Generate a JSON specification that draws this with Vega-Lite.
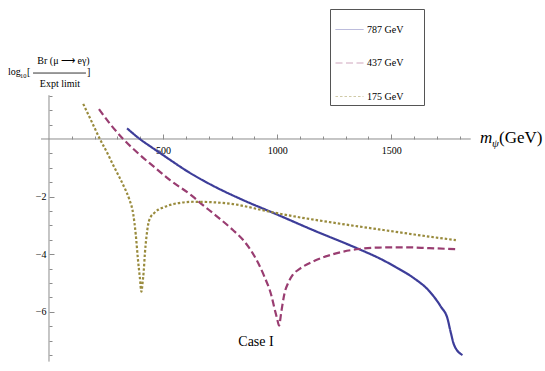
{
  "$schema": "https://vega.github.io/schema/vega-lite/v6.json",
  "width": 545,
  "height": 371,
  "autosize": "none",
  "padding": 0,
  "background": "white",
  "config": {"view": {"stroke": null}, "font": "Liberation Serif"},
  "resolve": {"axis": {"x": "independent", "y": "independent"}},
  "datasets": {
    "curves": [
      {"series": "787 GeV", "x": 342, "y": 0.37},
      {"series": "787 GeV", "x": 398, "y": 0},
      {"series": "787 GeV", "x": 450, "y": -0.29},
      {"series": "787 GeV", "x": 500, "y": -0.56},
      {"series": "787 GeV", "x": 616, "y": -1.17},
      {"series": "787 GeV", "x": 735, "y": -1.69},
      {"series": "787 GeV", "x": 850, "y": -2.12},
      {"series": "787 GeV", "x": 981, "y": -2.56},
      {"series": "787 GeV", "x": 1156, "y": -3.16},
      {"series": "787 GeV", "x": 1360, "y": -3.83},
      {"series": "787 GeV", "x": 1447, "y": -4.14},
      {"series": "787 GeV", "x": 1520, "y": -4.45},
      {"series": "787 GeV", "x": 1593, "y": -4.8},
      {"series": "787 GeV", "x": 1666, "y": -5.28},
      {"series": "787 GeV", "x": 1717, "y": -5.82},
      {"series": "787 GeV", "x": 1746, "y": -6.23},
      {"series": "787 GeV", "x": 1760, "y": -6.7},
      {"series": "787 GeV", "x": 1775, "y": -7.15},
      {"series": "787 GeV", "x": 1812, "y": -7.5},
      {"series": "437 GeV", "x": 219, "y": 1.04},
      {"series": "437 GeV", "x": 270, "y": 0.5},
      {"series": "437 GeV", "x": 325, "y": 0},
      {"series": "437 GeV", "x": 398, "y": -0.55},
      {"series": "437 GeV", "x": 485, "y": -1.13},
      {"series": "437 GeV", "x": 529, "y": -1.42},
      {"series": "437 GeV", "x": 631, "y": -2.0},
      {"series": "437 GeV", "x": 660, "y": -2.2},
      {"series": "437 GeV", "x": 730, "y": -2.65},
      {"series": "437 GeV", "x": 806, "y": -3.16},
      {"series": "437 GeV", "x": 850, "y": -3.5},
      {"series": "437 GeV", "x": 893, "y": -3.97},
      {"series": "437 GeV", "x": 944, "y": -4.78},
      {"series": "437 GeV", "x": 975, "y": -5.45},
      {"series": "437 GeV", "x": 988, "y": -5.88},
      {"series": "437 GeV", "x": 1000, "y": -6.25},
      {"series": "437 GeV", "x": 1008, "y": -6.48},
      {"series": "437 GeV", "x": 1018, "y": -6.0},
      {"series": "437 GeV", "x": 1032, "y": -5.36},
      {"series": "437 GeV", "x": 1048, "y": -5.0},
      {"series": "437 GeV", "x": 1068, "y": -4.72},
      {"series": "437 GeV", "x": 1100, "y": -4.5},
      {"series": "437 GeV", "x": 1156, "y": -4.26},
      {"series": "437 GeV", "x": 1258, "y": -3.97},
      {"series": "437 GeV", "x": 1360, "y": -3.82},
      {"series": "437 GeV", "x": 1447, "y": -3.77},
      {"series": "437 GeV", "x": 1560, "y": -3.76},
      {"series": "437 GeV", "x": 1666, "y": -3.79},
      {"series": "437 GeV", "x": 1793, "y": -3.83},
      {"series": "175 GeV", "x": 150, "y": 1.22},
      {"series": "175 GeV", "x": 190, "y": 0.55},
      {"series": "175 GeV", "x": 223, "y": 0},
      {"series": "175 GeV", "x": 253, "y": -0.45},
      {"series": "175 GeV", "x": 281, "y": -0.9},
      {"series": "175 GeV", "x": 310, "y": -1.35},
      {"series": "175 GeV", "x": 332, "y": -1.71},
      {"series": "175 GeV", "x": 352, "y": -2.1},
      {"series": "175 GeV", "x": 369, "y": -2.6},
      {"series": "175 GeV", "x": 380, "y": -3.3},
      {"series": "175 GeV", "x": 390, "y": -4.2},
      {"series": "175 GeV", "x": 398, "y": -4.8},
      {"series": "175 GeV", "x": 405, "y": -5.3},
      {"series": "175 GeV", "x": 410, "y": -5.0},
      {"series": "175 GeV", "x": 415, "y": -4.6},
      {"series": "175 GeV", "x": 420, "y": -4.0},
      {"series": "175 GeV", "x": 427, "y": -3.4},
      {"series": "175 GeV", "x": 435, "y": -2.95},
      {"series": "175 GeV", "x": 445, "y": -2.72},
      {"series": "175 GeV", "x": 460, "y": -2.58},
      {"series": "175 GeV", "x": 480, "y": -2.45},
      {"series": "175 GeV", "x": 500, "y": -2.38},
      {"series": "175 GeV", "x": 540, "y": -2.27},
      {"series": "175 GeV", "x": 580, "y": -2.21},
      {"series": "175 GeV", "x": 631, "y": -2.18},
      {"series": "175 GeV", "x": 700, "y": -2.19},
      {"series": "175 GeV", "x": 806, "y": -2.26},
      {"series": "175 GeV", "x": 952, "y": -2.5},
      {"series": "175 GeV", "x": 1083, "y": -2.7},
      {"series": "175 GeV", "x": 1200, "y": -2.85},
      {"series": "175 GeV", "x": 1316, "y": -2.99},
      {"series": "175 GeV", "x": 1447, "y": -3.14},
      {"series": "175 GeV", "x": 1560, "y": -3.27},
      {"series": "175 GeV", "x": 1666, "y": -3.39},
      {"series": "175 GeV", "x": 1783, "y": -3.51}
    ]
  },
  "layer": [
    {
      "data": {"values": [{}]},
      "mark": {"type": "rule", "color": "#8c8c8c", "strokeWidth": 1},
      "encoding": {
        "x": {"datum": -35, "type": "quantitative",
          "axis": {
            "orient": "bottom", "offset": -232,
            "values": [100, 200, 300, 400, 600, 700, 800, 900, 1100, 1200, 1300, 1400, 1600, 1700, 1800],
            "domain": false, "grid": false, "labels": false, "title": null,
            "tickSize": -3, "tickColor": "#8c8c8c", "tickWidth": 1
          }
        },
        "x2": {"datum": 1848},
        "y": {"datum": 0, "type": "quantitative",
          "axis": {
            "orient": "left", "offset": -49,
            "values": [1.5, 1, 0.5, -0.5, -1, -1.5, -2.5, -3, -3.5, -4.5, -5, -5.5, -6.5, -7, -7.5],
            "domain": false, "grid": false, "labels": false, "title": null,
            "tickSize": -3, "tickColor": "#8c8c8c", "tickWidth": 1
          }
        }
      }
    },
    {
      "data": {"values": [{}]},
      "mark": {"type": "rule", "color": "#8c8c8c", "strokeWidth": 1},
      "encoding": {
        "x": {"datum": 0, "type": "quantitative", "axis": null},
        "y": {"datum": 1.52, "type": "quantitative", "axis": null},
        "y2": {"datum": -7.73}
      }
    },
    {
      "data": {"name": "curves"},
      "mark": {"type": "line", "strokeWidth": 2.2, "interpolate": "monotone"},
      "encoding": {
        "x": {
          "field": "x", "type": "quantitative",
          "scale": {"domain": [-214.7, 2173.5], "nice": false, "zero": false},
          "axis": {
            "orient": "bottom", "offset": -232,
            "values": [500, 1000, 1500],
            "domain": false, "grid": false,
            "tickSize": -5, "tickColor": "#8c8c8c", "tickWidth": 1,
            "format": "d",
            "labelFont": "Liberation Serif", "labelFontSize": 10, "labelColor": "black",
            "labelPadding": 11, "labelFlush": false, "labelOverlap": false,
            "title": null
          }
        },
        "y": {
          "field": "y", "type": "quantitative",
          "scale": {"domain": [-8.056, 4.826], "nice": false, "zero": false},
          "axis": {
            "orient": "left", "offset": -49,
            "values": [-2, -4, -6],
            "domain": false, "grid": false,
            "tickSize": -5, "tickColor": "#8c8c8c", "tickWidth": 1,
            "format": "d",
            "labelFont": "Liberation Serif", "labelFontSize": 10, "labelColor": "black",
            "labelPadding": 8, "labelFlush": false, "labelOverlap": false,
            "title": null
          }
        },
        "color": {
          "field": "series", "type": "nominal",
          "scale": {"domain": ["787 GeV", "437 GeV", "175 GeV"], "range": ["#3d3d99", "#993d71", "#998b3d"]},
          "legend": {
            "orient": "none", "legendX": 330, "legendY": 9,
            "title": "0000000000000000000000", "titleFontSize": 8, "titlePadding": 2, "titleOpacity": 0,
            "strokeColor": "#555555", "padding": 3, "rowPadding": 20.5,
            "symbolType": "M-2,0L2,0", "symbolSize": 196, "symbolStrokeWidth": 1,
            "symbolOpacity": 0.45, "symbolOffset": 9,
            "labelFont": "Liberation Serif", "labelFontSize": 10, "labelColor": "black",
            "labelOffset": 10
          }
        },
        "strokeDash": {
          "field": "series", "type": "nominal",
          "scale": {"domain": ["787 GeV", "437 GeV", "175 GeV"], "range": [[1, 0], [7, 3.5], [2.5, 2]]},
          "legend": {
            "orient": "none", "legendX": 330, "legendY": 9,
            "title": "0000000000000000000000", "titleFontSize": 8, "titlePadding": 2, "titleOpacity": 0,
            "strokeColor": "#555555", "padding": 3, "rowPadding": 20.5,
            "symbolType": "M-2,0L2,0", "symbolSize": 196, "symbolStrokeWidth": 1,
            "symbolOpacity": 0.45, "symbolOffset": 9,
            "labelFont": "Liberation Serif", "labelFontSize": 10, "labelColor": "black",
            "labelOffset": 10
          }
        }
      }
    },
    {
      "data": {"values": [{}]},
      "mark": {"type": "text", "text": "Case I", "fontSize": 14, "font": "Liberation Serif", "align": "center", "baseline": "middle", "color": "black"},
      "encoding": {"x": {"datum": 907, "type": "quantitative", "axis": null}, "y": {"datum": -7.05, "type": "quantitative", "axis": null}}
    },
    {
      "data": {"values": [{}]},
      "mark": {"type": "text", "text": "m", "fontSize": 17, "fontStyle": "italic", "font": "Liberation Serif", "align": "left", "baseline": "middle", "color": "black"},
      "encoding": {"x": {"datum": 1889, "type": "quantitative", "axis": null}, "y": {"datum": 0.03, "type": "quantitative", "axis": null}}
    },
    {
      "data": {"values": [{}]},
      "mark": {"type": "text", "text": "ψ", "fontSize": 11, "fontStyle": "italic", "font": "Liberation Serif", "align": "left", "baseline": "middle", "color": "black"},
      "encoding": {"x": {"datum": 1941, "type": "quantitative", "axis": null}, "y": {"datum": -0.17, "type": "quantitative", "axis": null}}
    },
    {
      "data": {"values": [{}]},
      "mark": {"type": "text", "text": "(GeV)", "fontSize": 17, "font": "Liberation Serif", "align": "left", "baseline": "middle", "color": "black"},
      "encoding": {"x": {"datum": 1972, "type": "quantitative", "axis": null}, "y": {"datum": 0.03, "type": "quantitative", "axis": null}}
    },
    {
      "data": {"values": [{}]},
      "mark": {"type": "text", "text": "Br (μ ⟶ eγ)", "fontSize": 10, "font": "Liberation Serif", "align": "center", "baseline": "middle", "color": "black"},
      "encoding": {"x": {"datum": 63.5, "type": "quantitative", "axis": null}, "y": {"datum": 2.71, "type": "quantitative", "axis": null}}
    },
    {
      "data": {"values": [{}]},
      "mark": {"type": "text", "text": "log", "fontSize": 10, "font": "Liberation Serif", "align": "left", "baseline": "middle", "color": "black"},
      "encoding": {"x": {"datum": -179.7, "type": "quantitative", "axis": null}, "y": {"datum": 2.33, "type": "quantitative", "axis": null}}
    },
    {
      "data": {"values": [{}]},
      "mark": {"type": "text", "text": "10", "fontSize": 6.5, "font": "Liberation Serif", "align": "left", "baseline": "middle", "color": "black"},
      "encoding": {"x": {"datum": -127, "type": "quantitative", "axis": null}, "y": {"datum": 2.2, "type": "quantitative", "axis": null}}
    },
    {
      "data": {"values": [{}]},
      "mark": {"type": "text", "text": "[", "fontSize": 10, "font": "Liberation Serif", "align": "left", "baseline": "middle", "color": "black"},
      "encoding": {"x": {"datum": -96.4, "type": "quantitative", "axis": null}, "y": {"datum": 2.33, "type": "quantitative", "axis": null}}
    },
    {
      "data": {"values": [{}]},
      "mark": {"type": "rule", "color": "black", "strokeWidth": 0.8},
      "encoding": {"x": {"datum": -70, "type": "quantitative", "axis": null}, "x2": {"datum": 162}, "y": {"datum": 2.29, "type": "quantitative", "axis": null}}
    },
    {
      "data": {"values": [{}]},
      "mark": {"type": "text", "text": "]", "fontSize": 10, "font": "Liberation Serif", "align": "left", "baseline": "middle", "color": "black"},
      "encoding": {"x": {"datum": 166.5, "type": "quantitative", "axis": null}, "y": {"datum": 2.33, "type": "quantitative", "axis": null}}
    },
    {
      "data": {"values": [{}]},
      "mark": {"type": "text", "text": "Expt limit", "fontSize": 10, "font": "Liberation Serif", "align": "center", "baseline": "middle", "color": "black"},
      "encoding": {"x": {"datum": 48.2, "type": "quantitative", "axis": null}, "y": {"datum": 1.91, "type": "quantitative", "axis": null}}
    }
  ]
}
